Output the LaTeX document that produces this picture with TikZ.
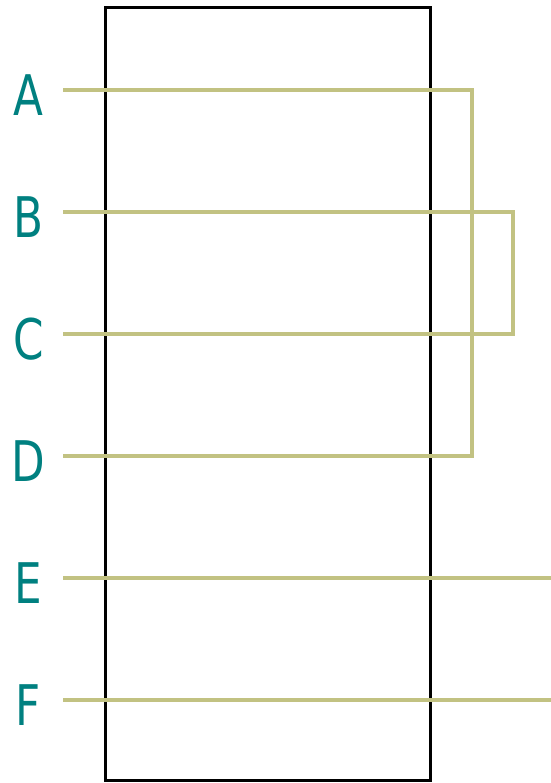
\documentclass[tikz,border=0pt]{standalone}
\usepackage{fontspec}
\setmainfont{DejaVu Sans}
\definecolor{wire}{RGB}{194,194,130}
\definecolor{lbl}{RGB}{0,128,128}
\begin{document}
\begin{tikzpicture}[x=1pt,y=-1pt,
  wirestyle/.style={draw=wire,line width=3.6pt},
  lblstyle/.style={text=lbl,font=\fontsize{56}{56}\selectfont,inner sep=0pt,anchor=center}]
\useasboundingbox (0,0) rectangle (550,783);
\node[draw=black,line width=3pt,minimum width=325pt,minimum height=773pt,inner sep=0pt] (box) at (268,394) {};
\foreach \n/\y/\t in {a/90/A,b/212/B,c/334/C,d/456/D,e/578/E,f/700/F}{
  \node[lblstyle] (l\n) at (28.5,\y+5.5) {\scalebox{0.78}[1]{\t}};
  \coordinate (s\n) at (63,\y);
}
\coordinate (ad1) at (472,90);
\coordinate (ad2) at (472,456);
\coordinate (bc1) at (513,212);
\coordinate (bc2) at (513,334);
\coordinate (ee) at (552,578);
\coordinate (fe) at (552,700);
\draw[wirestyle] (sa) -- (ad1) -- (ad2) -- (sd);
\draw[wirestyle] (sb) -- (bc1) -- (bc2) -- (sc);
\draw[wirestyle] (se) -- (ee);
\draw[wirestyle] (sf) -- (fe);
\end{tikzpicture}
\end{document}
